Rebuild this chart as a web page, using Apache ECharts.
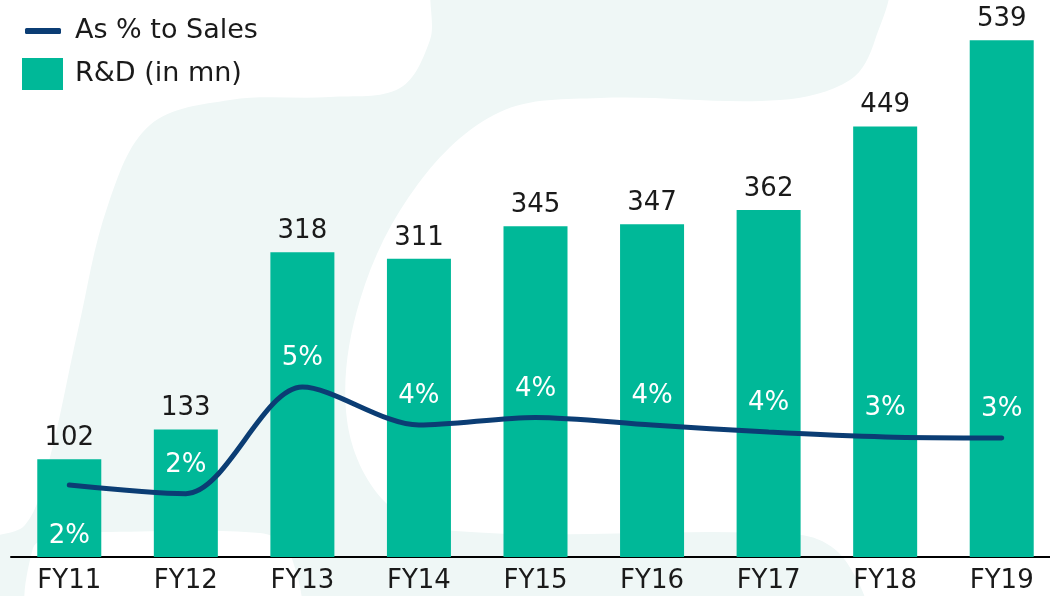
<!DOCTYPE html>
<html>
<head>
<meta charset="utf-8">
<script src="https://cdn.jsdelivr.net/npm/echarts@6/dist/echarts.min.js"></script>
<style>
html,body{margin:0;padding:0;background:#fff;}
#chart{width:1050px;height:596px;}
</style>
</head>
<body>
<div id="chart"></div>
<script>
// ---- data ----
var categories = ['FY11','FY12','FY13','FY14','FY15','FY16','FY17','FY18','FY19'];
var rdValues = [102, 133, 318, 311, 345, 347, 362, 449, 539];
var pctValues = [2.07, 1.82, 4.88, 3.79, 4.01, 3.79, 3.59, 3.45, 3.42];
var seriesNames = ['As % to Sales', 'R&D (in mn)'];

var FONT = '"DejaVu Sans", sans-serif';
var chart = echarts.init(document.getElementById('chart'), null, {renderer: 'canvas'});

var pctData = pctValues.map(function (v, i) {
  var d = {value: v};
  if (i === 0) {
    d.label = {position: 'bottom', distance: 38};
  }
  return d;
});

// decorative background shapes (outline points)
var blobPoints = [[440,-20],[430,40],[400,88],[330,97],[230,100],[150,125],[108,205],[78,330],[48,465],[25,525],[-20,545],[-20,620],[860,620],[845,560],[800,535],[455,531],[385,502],[347,420],[360,300],[418,184],[500,112],[600,98],[780,100],[850,80],[875,40],[882,-20]];
var holePoints = [[33,620],[33,548],[55,536],[110,532],[260,533],[288,548],[295,620]];

var option = {
  backgroundColor: '#ffffff',
  animation: false,
  graphic: [{
    type: 'polygon',
    silent: true,
    z: -10,
    shape: {points: blobPoints, smooth: 0.35},
    style: {fill: '#eff7f6'}
  }, {
    type: 'polygon',
    silent: true,
    z: -9,
    shape: {points: holePoints, smooth: 0.3},
    style: {fill: '#ffffff'}
  }],
  legend: [{
    data: [{name: seriesNames[0], icon: 'roundRect'}],
    orient: 'vertical',
    left: 25,
    top: 16,
    padding: 0,
    itemWidth: 36,
    itemHeight: 6,
    itemGap: 0,
    textStyle: {fontFamily: FONT, fontSize: 27, color: '#1a1a1a', lineHeight: 30, padding: [0, 0, 0, 9]},
    selectedMode: false
  }, {
    data: [{name: seriesNames[1], icon: 'rect'}],
    orient: 'vertical',
    left: 22,
    top: 58,
    padding: 0,
    itemWidth: 41,
    itemHeight: 32,
    itemGap: 0,
    textStyle: {fontFamily: FONT, fontSize: 27, color: '#1a1a1a', lineHeight: 30, padding: [0, 0, 0, 7]},
    selectedMode: false
  }],
  grid: {left: 11, width: 1049, top: 0, bottom: 39, containLabel: false, outerBoundsMode: 'none'},
  xAxis: {
    type: 'category',
    data: categories,
    boundaryGap: true,
    axisLine: {show: true, lineStyle: {color: '#000', width: 2}},
    axisTick: {show: false},
    axisLabel: {fontFamily: FONT, fontSize: 26, color: '#1a1a1a', margin: 11}
  },
  yAxis: [{
    type: 'value', min: 0, max: 581, show: false, splitLine: {show: false}
  }, {
    type: 'value', min: 0, max: 16, show: false, splitLine: {show: false}
  }],
  series: [{
    name: seriesNames[1],
    type: 'bar',
    data: rdValues,
    barWidth: 64,
    itemStyle: {color: '#00b898'},
    label: {show: true, position: 'top', distance: 8, fontFamily: FONT, fontSize: 26, color: '#1a1a1a'},
    z: 2
  }, {
    name: seriesNames[0],
    type: 'line',
    yAxisIndex: 1,
    data: pctData,
    smooth: 0.3,
    symbol: 'circle',
    symbolSize: 1,
    showSymbol: true,
    lineStyle: {color: '#0b3d74', width: 5, cap: 'round'},
    itemStyle: {color: '#0b3d74'},
    label: {
      show: true, position: 'top', distance: 15,
      fontFamily: FONT, fontSize: 26, color: '#ffffff',
      formatter: function (p) { return Math.round(p.value) + '%'; }
    },
    labelLayout: {hideOverlap: false},
    z: 3
  }]
};
chart.setOption(option);
</script>
</body>
</html>
